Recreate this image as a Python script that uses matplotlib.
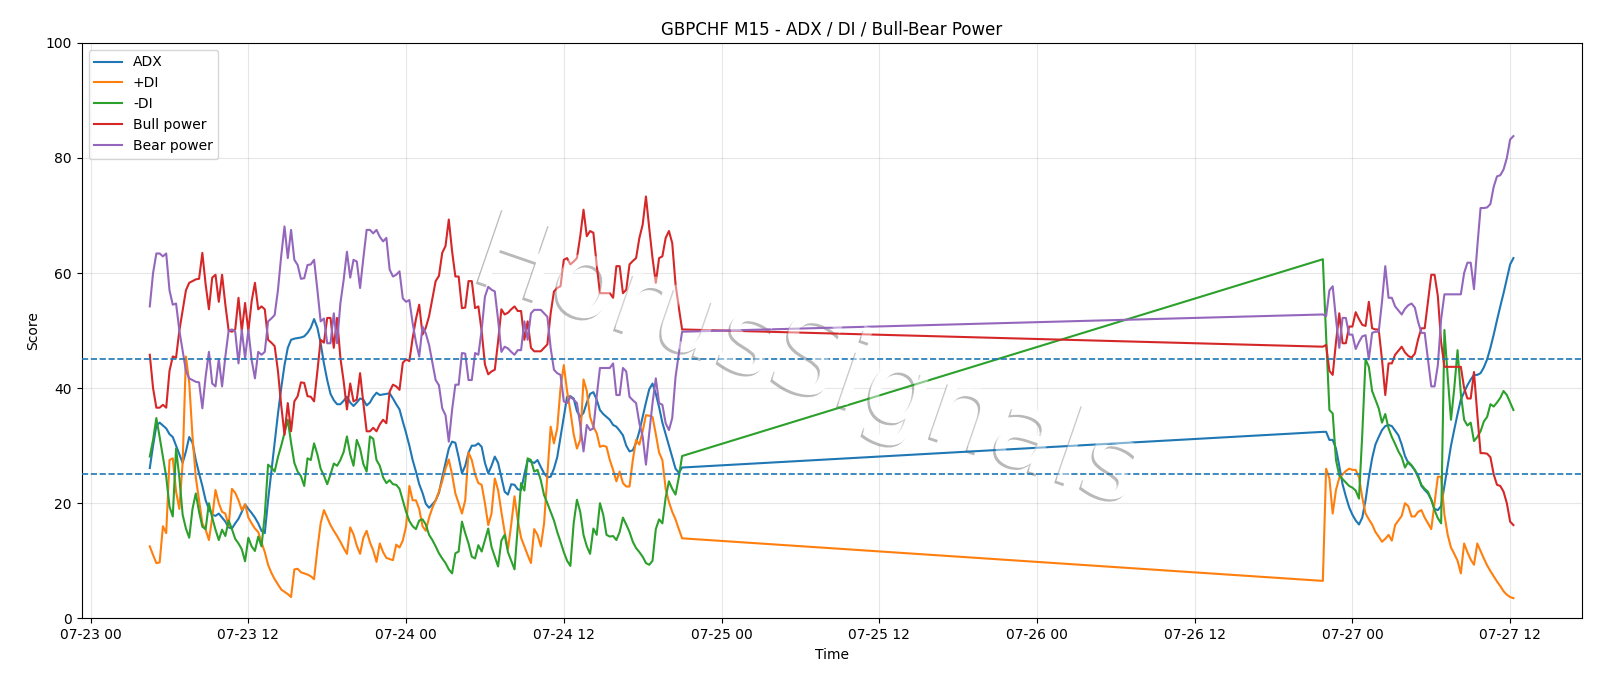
import numpy as np
import pandas as pd
import matplotlib
matplotlib.use("Agg")
import matplotlib.pyplot as plt
import matplotlib.dates as mdates
import matplotlib.patheffects as pe

# ---------------- data ----------------
seg1_start = "2020-07-23 04:30"
seg2_start = "2020-07-26 21:45"
bar_freq = "15min"

adx_seg1 = [26.1, 30, 33.5, 34, 33.5, 33, 32, 31.5, 30, 28.5,
            27, 29, 31.5, 30.5, 27.5, 25.2, 23, 20.5, 19, 18,
            17.8, 18.2, 17.5, 16.8, 15.8, 15.6, 16.5, 17.3, 18.5, 19.8,
            19, 18.3, 17.5, 16.5, 15.2, 14.8, 20.5, 25.5, 30.5, 35.5,
            40, 44, 47, 48.4, 48.6, 48.7, 48.8, 49, 49.6, 50.5,
            52, 50.5, 47.8, 44.3, 41.4, 39, 37.9, 37.2, 37.2, 37.8,
            38.5, 37.5, 36.9, 37.5, 38.2, 38, 37, 37.5, 38.5, 39.2,
            38.8, 38.9, 39, 39.1, 38.2, 37.2, 36.3, 34.2, 32.2, 30,
            27.5, 25.5, 23.3, 21.8, 19.9, 19.2, 19.8, 20.5, 21.8, 24.5,
            27, 29.5, 30.7, 30.5, 28, 25.2, 26.5, 28.8, 30, 30,
            30.4, 29.8, 27, 25.2, 26.5, 28.1, 27, 24.5, 22, 21.5,
            23.3, 23.2, 22.4, 22.3, 25, 27.5, 27.2, 27, 27.5, 26.3,
            25.2, 24.5, 24.6, 26, 28, 31.5, 35, 38.5, 38.6, 38.2,
            36, 35, 35.7, 37.5, 39, 39.3, 38, 36.2, 35.5, 35,
            34.5, 33.6, 33.3, 32.6, 31.8, 30, 29, 29.2, 30.5, 32.5,
            35, 37.5, 39.8, 40.8, 39, 36.7, 34, 32, 30, 28,
            26, 25.3, 26.2]
pdi_seg1 = [12.5, 11, 9.6, 9.7, 16, 14.8, 27.5, 27.8, 22, 19,
            27, 45.5, 41, 31.6, 24.5, 20.5, 16.5, 15.4, 13.6, 17.5,
            22.3, 20, 18.5, 18.2, 16, 22.5, 21.8, 20.5, 18.8, 19.8,
            17.5, 16.5, 15.6, 15, 13.2, 11.5, 9.3, 7.9, 6.8, 5.9,
            5, 4.6, 4.2, 3.7, 8.5, 8.6, 8, 7.8, 7.6, 7.3,
            6.8, 12, 16.5, 18.8, 17.5, 16.2, 15.2, 14.3, 13.3, 12.2,
            11.2, 15.8, 14.6, 12.6, 11.2, 14, 15.2, 13.2, 11.8, 9.8,
            13, 11.5, 10.5, 10.3, 10.1, 12.8, 12.3, 13.5, 16, 23,
            20.5, 20.5, 19, 16, 15.2, 17.5, 19.2, 20.5, 22, 23.8,
            26, 27.6, 25, 21.7, 20, 18.2, 20.5, 28.8, 27.5, 25,
            23.5, 23.2, 20, 16.2, 18.2, 24.3, 22.3, 18.5, 15, 12,
            16.3, 21.2, 17, 14, 12.5, 11, 9.6, 15.5, 14.5, 12.5,
            16.5, 25, 33.3, 30.4, 33, 40, 44, 39.5, 36, 32,
            29.5, 31, 41.5, 39.5, 35, 33.3, 32.2, 29.8, 30, 29.8,
            27.5, 25.8, 23.8, 25.5, 23.5, 22.9, 22.9, 27.5, 31, 30.2,
            32.5, 35.3, 35.2, 35, 32, 28.8, 27.5, 22.5, 20.2, 18.5,
            17.2, 15.5, 13.9]
mdi_seg1 = [28.1, 31, 34.8, 31.5, 28, 24.6, 19.4, 17.7, 29.5, 24.5,
            18, 15.6, 14, 19, 21.7, 18.5, 15.9, 15.5, 20, 17.5,
            15.4, 13.6, 15.4, 14.3, 17, 15.5, 13.8, 13, 12, 9.9,
            14, 12.5, 11.7, 14.2, 12.5, 18, 26.7, 26.2, 25.5, 28,
            30, 32.2, 34.5, 30.5, 27, 25.5, 24.7, 23, 27.8, 27.5,
            30.4, 28.5, 26, 24.8, 23.3, 25, 26.9, 26.5, 27.5, 28.9,
            31.6, 28.5, 26.5, 31, 29.5, 26.8, 25.5, 31.6, 31.2, 27.5,
            26.5, 24.5, 23.5, 24, 23.3, 23.2, 22.5, 20.5, 18.5, 16.9,
            16, 15.5, 17, 17.2, 16.3, 14.5, 13.6, 12.5, 11.3, 10.4,
            9.6, 8.5, 7.8, 11.3, 11.6, 16.8, 14.8, 13, 10.7, 10.4,
            12.7, 11.6, 13.6, 15.6, 12.4, 10.7, 9, 13.5, 14.5, 11.5,
            10, 8.5, 16, 23.5, 22.2, 27.8, 27.5, 25.5, 25.8, 24,
            21.4, 20, 18.5, 17, 15, 13.3, 11.5, 10, 9.1, 16.5,
            20.6, 18.5, 14.5, 12.5, 11.2, 15.6, 14.5, 20, 18, 14.5,
            14.2, 14.3, 13.6, 15, 17.5, 16.3, 15, 13.3, 12.2, 11.5,
            10.7, 9.6, 9.3, 10, 15.5, 17.2, 16.5, 21, 23.8, 22.5,
            21.5, 24.5, 28.2]
bull_seg1 = [45.8, 40, 36.6, 36.6, 37.1, 36.6, 43, 45.5, 45.3, 50,
             53.5, 57, 58.3, 58.6, 58.9, 59, 63.5, 58, 53.7, 59.2,
             59.7, 55, 59.7, 54.5, 50, 49.8, 50.2, 55.7, 49.9, 54.8,
             49.9, 55.1, 58.3, 53.7, 54.2, 53.7, 48.4, 47.9, 47.3, 43,
             37, 31.9, 37.4, 32.5, 37.7, 38.6, 41, 40.9, 38.6, 38.5,
             37.7, 42.9, 48.4, 47.9, 52.2, 52.2, 47, 52.2, 45.3, 41.2,
             36.3, 40.8, 37.7, 38, 42.6, 37.4, 32.5, 32.5, 33.1, 32.5,
             33.7, 34.5, 33.9, 39.4, 40.6, 40.3, 39.7, 44.4, 45, 44.7,
             48.7, 52, 54.5, 49.3, 50.5, 52.5, 55.5, 58.6, 59.5, 63.5,
             64.7, 69.3, 63.8, 59.4, 59.4, 53.9, 54, 58.6, 58.6, 53.9,
             54.2, 49.9, 44.1, 42.4, 42.9, 43.2, 48.1, 53.7, 52.8, 53.1,
             53.7, 54.2, 53.4, 53.4, 48.4, 51.6, 47, 46.4, 46.4, 46.4,
             47, 47.6, 53, 56.8, 57.4, 57.7, 62.3, 62.6, 61.5, 62,
             62.6, 66.4, 71, 66.4, 67.3, 67, 61.5, 56.5, 56.5, 56.5,
             56.5, 55.7, 61.2, 61.2, 56.5, 57.1, 61.5, 62.1, 62.6, 66.1,
             68.4, 73.3, 67.8, 62.6, 58.3, 62.6, 62.9, 66.1, 67.3, 65.2,
             58.1, 54, 50.2]
bear_seg1 = [54.2, 60, 63.4, 63.4, 62.9, 63.4, 57, 54.5, 54.7, 50,
             46.5, 43, 41.7, 41.4, 41.1, 41, 36.5, 42, 46.3, 40.8,
             40.3, 45, 40.3, 45.5, 50, 50.2, 49.8, 44.3, 50.1, 45.2,
             50.1, 44.9, 41.7, 46.3, 45.8, 46.3, 51.6, 52.1, 52.7, 57,
             63, 68.1, 62.6, 67.5, 62.3, 61.4, 59, 59.1, 61.4, 61.5,
             62.3, 57.1, 51.6, 52.1, 47.8, 47.8, 53, 47.8, 54.7, 58.8,
             63.7, 59.2, 62.3, 62, 57.4, 62.6, 67.5, 67.5, 66.9, 67.5,
             66.3, 65.5, 66.1, 60.6, 59.4, 59.7, 60.3, 55.6, 55, 55.3,
             51.3, 48, 45.5, 50.7, 49.5, 47.5, 44.5, 41.4, 40.5, 36.5,
             35.3, 30.7, 36.2, 40.6, 40.6, 46.1, 46, 41.4, 41.4, 46.1,
             45.8, 50.1, 55.9, 57.6, 57.1, 56.8, 51.9, 46.3, 47.2, 46.9,
             46.3, 45.8, 46.6, 46.6, 51.6, 48.4, 53, 53.6, 53.6, 53.6,
             53, 52.4, 47, 43.2, 42.6, 42.3, 37.7, 37.4, 38.5, 38,
             37.4, 33.6, 29, 33.6, 32.7, 33, 38.5, 43.5, 43.5, 43.5,
             43.5, 44.3, 38.8, 38.8, 43.5, 42.9, 38.5, 37.9, 37.4, 33.9,
             31.6, 26.7, 32.2, 37.4, 41.7, 37.4, 37.1, 33.9, 32.7, 34.8,
             41.9, 46, 49.8]

adx_seg2 = [32.4, 32.4, 31, 31, 29.5, 26.5, 23.3, 21.2, 19.3, 18,
            17, 16.3, 17.5, 20.5, 24.5, 27.8, 30.2, 31.5, 32.7, 33.4,
            33.6, 33.4, 32.6, 31.8, 30.2, 28.2, 27, 26.5, 25.7, 24.8,
            23, 22.3, 21.7, 20.6, 19, 18.8, 19.5, 23, 26.5, 30,
            32.8, 35.5, 38, 39.3, 40.5, 41.5, 42.3, 42.3, 42.6, 43.6,
            45, 47, 49.3, 51.8, 54.2, 56.5, 59, 61.5, 62.6]
pdi_seg2 = [6.5, 26, 24.3, 18.2, 22.3, 24.4, 25, 25.6, 26, 25.8,
            25.8, 24.5, 21, 18.2, 17.2, 16.3, 15, 14.2, 13.3, 13.8,
            14.5, 13.5, 16.2, 17, 17.8, 20, 19.5, 17.7, 17.7, 18.5,
            18.8, 17.5, 16.5, 15.5, 20, 24.6, 24.6, 18, 14.5, 12.3,
            11.2, 10, 7.8, 13, 11.5, 10.2, 9.3, 13, 11.7, 10.4,
            9.2, 8.2, 7.3, 6.4, 5.6, 4.7, 4.1, 3.7, 3.5]
mdi_seg2 = [62.4, 49, 36.2, 35.6, 27.5, 24.8, 24.2, 23.6, 23, 22.7,
            22.2, 20.8, 32, 45, 43.7, 39.5, 38, 36.5, 34, 35.5,
            33, 31.5, 30.3, 29, 28, 26.2, 27.2, 26.6, 25.8, 24.5,
            23.2, 22.5, 22, 20.6, 18.8, 17.4, 16.5, 50.1, 42, 34.5,
            40, 46.6, 39, 34.5, 33.5, 34, 30.8, 31.5, 32.5, 34.2,
            35, 37.2, 36.8, 37.5, 38.3, 39.5, 38.8, 37.5, 36.2]
bull_seg2 = [47.2, 47.5, 43, 42.3, 48, 53, 47.8, 47.8, 50.7, 50.7,
             53.2, 52, 51, 50.8, 55, 50.4, 50.2, 50.2, 45, 38.8,
             44.3, 44.3, 45.8, 46.5, 47.2, 46.2, 45.6, 45.3, 46, 48.5,
             50.4, 50.4, 55, 59.7, 59.7, 56, 48, 43.7, 43.7, 43.7,
             43.7, 43.7, 43.7, 40, 38.2, 38.2, 42.8, 35.5, 28.7, 28.7,
             28.6, 28, 25, 23.2, 23, 22, 20, 16.8, 16.2]
bear_seg2 = [52.8, 52.5, 57, 57.7, 52, 47, 52.2, 52.2, 49.3, 49.3,
             46.8, 48, 49, 49.2, 45, 49.6, 49.8, 49.8, 55, 61.2,
             55.7, 55.7, 54.2, 53.5, 52.8, 53.8, 54.4, 54.7, 54, 51.5,
             49.6, 49.6, 45, 40.3, 40.3, 44, 52, 56.3, 56.3, 56.3,
             56.3, 56.3, 56.3, 60, 61.8, 61.8, 57.2, 64.5, 71.3, 71.3,
             71.4, 72, 75, 76.8, 77, 78, 80, 83.2, 83.8]

series_labels = ["ADX", "+DI", "-DI", "Bull power", "Bear power"]
levels = [25, 45]
title = "GBPCHF M15 - ADX / DI / Bull-Bear Power"
watermark = "HorusSignals"

# ---------------- build ----------------
t1 = pd.date_range(seg1_start, periods=len(adx_seg1), freq=bar_freq)
t2 = pd.date_range(seg2_start, periods=len(adx_seg2), freq=bar_freq)
times = t1.append(t2)
series = [adx_seg1 + adx_seg2, pdi_seg1 + pdi_seg2, mdi_seg1 + mdi_seg2,
          bull_seg1 + bull_seg2, bear_seg1 + bear_seg2]

fig = plt.figure(figsize=(16, 6.86), dpi=100)
ax = fig.add_axes([0.051, 0.0987, 0.9375, 0.8388])

for vals, lab, col in zip(series, series_labels, ["C0", "C1", "C2", "C3", "C4"]):
    ax.plot(times, vals, label=lab, color=col, linewidth=1.5, zorder=3)

for lv in levels:
    ax.axhline(lv, linestyle="--", color="C0", linewidth=1.2, zorder=3)

ax.set_ylim(0, 100)
ax.grid(True, alpha=0.3)
ax.xaxis.set_major_locator(mdates.HourLocator(byhour=[0, 12]))
ax.xaxis.set_major_formatter(mdates.DateFormatter("%m-%d %H"))
ax.set_title(title, fontsize=12)
ax.set_xlabel("Time")
ax.set_ylabel("Score")
ax.legend(loc="upper left")

wm_kw = dict(transform=ax.transAxes, rotation=-19, ha="center", va="center",
             fontsize=77, color="white")
# shadowed white glyphs beneath the data lines
ax.text(0.484, 0.442, watermark, zorder=2, alpha=1.0,
        path_effects=[pe.SimplePatchShadow(offset=(-1.6, -1.6), shadow_rgbFace="#808080", alpha=0.55),
                      pe.Normal()], **wm_kw)
# translucent veil above the lines
ax.text(0.484, 0.442, watermark, zorder=10, alpha=0.45, **wm_kw)

fig.savefig("out.png", dpi=100)
